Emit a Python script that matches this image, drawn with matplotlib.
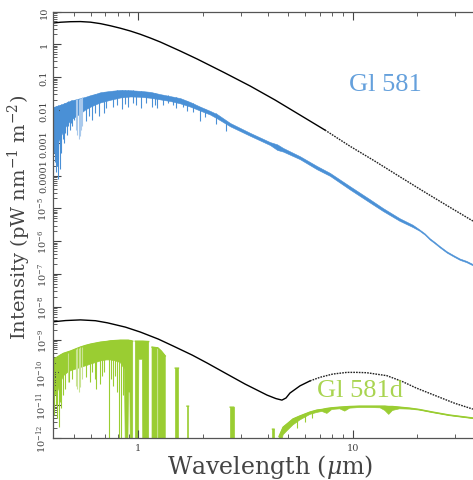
import numpy as np
import matplotlib.pyplot as plt
from matplotlib.ticker import FixedLocator, FixedFormatter, LogLocator, NullFormatter

plt.rcParams['font.family'] = 'DejaVu Serif'
plt.rcParams['mathtext.fontset'] = 'dejavuserif'

BLUE = "#4a90d6"
BLUE_LIGHT = "#a9c9ec"
GREEN = "#9acd32"
GREEN_LIGHT = "#c9e394"
INK = "#444444"

# black body curves (wavelength in micron, log10 intensity)
star_bb_wl = [0.402, 0.434, 0.483, 0.537, 0.598, 0.666, 0.741, 0.825, 0.918, 1.022, 1.137, 1.266, 1.567,
              1.880, 2.51, 3.32, 4.34, 5.67, 7.41, 9.67, 12.64, 16.5, 21.6, 28.2, 36.3]
star_bb_log = [0.649, 0.673, 0.689, 0.693, 0.675, 0.630, 0.565, 0.490, 0.405, 0.305, 0.192, 0.070, -0.204,
               -0.448, -0.860, -1.271, -1.698, -2.155, -2.613, -3.101, -3.558, -4.030, -4.503, -4.960, -5.387]

planet_bb_wl = [0.402, 0.458, 0.537, 0.631, 0.718, 0.870, 1.022, 1.239, 1.455, 1.783, 2.094, 2.540, 3.146,
                3.98, 4.38, 4.67, 4.88, 5.09, 5.67, 6.31, 7.03, 8.07, 9.38, 10.4, 11.6, 14.4, 16.9, 19.8,
                25.4, 29.8, 36.3]
planet_bb_log = [-8.457, -8.42, -8.400, -8.425, -8.49, -8.62, -8.771, -8.985, -9.198, -9.473, -9.716, -10.021,
                 -10.357, -10.692, -10.799, -10.845, -10.78, -10.63, -10.41, -10.26, -10.15, -10.05, -10.00,
                 -10.00, -10.01, -10.10, -10.27, -10.48, -10.76, -10.94, -11.12]

# Gl 581 stellar spectrum: upper and lower edge of the band
blue_wl = [0.402, 0.415, 0.434, 0.458, 0.483, 0.509, 0.537, 0.567, 0.598, 0.631, 0.666, 0.741, 0.825, 0.918,
           1.022, 1.137, 1.266, 1.41, 1.567, 1.745, 1.94, 2.16, 2.33, 2.68, 3.32, 4.11, 4.44, 4.73, 5.66,
           6.80, 7.82, 9.66, 11.98, 13.8, 16.5, 19.0, 20.4, 21.6, 22.8, 24.0, 25.4, 27.4, 29.5, 31.5, 33.8, 36.3]
blue_top = [-1.91, -1.88, -1.84, -1.78, -1.72, -1.68, -1.64, -1.60, -1.55, -1.51, -1.46, -1.42, -1.39, -1.40,
            -1.42, -1.45, -1.52, -1.58, -1.64, -1.76, -1.90, -2.03, -2.13, -2.40, -2.70, -2.98, -3.05, -3.16, -3.41,
            -3.71, -3.92, -4.32, -4.72, -4.99, -5.30, -5.50, -5.64, -5.76, -5.91, -6.02, -6.15, -6.31, -6.43, -6.53,
            -6.60, -6.70]
blue_bot = [-2.90, -3.10, -2.80, -2.50, -2.30, -2.20, -2.10, -1.98, -1.90, -1.83, -1.77, -1.69, -1.62, -1.59,
            -1.60, -1.63, -1.68, -1.73, -1.80, -1.90, -2.02, -2.14, -2.26, -2.50, -2.79, -3.07, -3.22, -3.27, -3.50,
            -3.81, -4.01, -4.42, -4.82, -5.08, -5.38, -5.57, -5.68, -5.80, -5.95, -6.06, -6.19, -6.35, -6.47, -6.57,
            -6.64, -6.74]

# absorption lines of the star: wavelength, top, bottom
blue_lines_wl = [0.405, 0.408, 0.411, 0.414, 0.417, 0.420, 0.424, 0.429, 0.433, 0.438, 0.443, 0.448, 0.455,
                 0.463, 0.470, 0.478, 0.485, 0.493, 0.502, 0.573, 0.590, 0.611, 0.630, 0.652, 0.695,
                 0.705, 0.758, 0.797, 0.843, 0.870, 0.899, 0.940, 0.979, 1.033, 1.08, 1.16, 1.19, 1.226,
                 1.30, 1.379, 1.45, 1.49, 1.62, 1.69, 1.80, 1.94, 2.05, 2.30, 2.57]
blue_lines_top = [-1.90, -1.90, -1.90, -1.89, -1.88, -1.87, -1.86, -1.85, -1.84, -1.83, -1.81, -1.80, -1.78,
                  -1.76, -1.74, -1.72, -1.71, -1.70, -1.69, -1.60, -1.57, -1.55, -1.51, -1.49, -1.45,
                  -1.44, -1.41, -1.40, -1.39, -1.39, -1.40, -1.40, -1.41, -1.42, -1.44, -1.47, -1.48, -1.50,
                  -1.54, -1.56, -1.60, -1.62, -1.70, -1.73, -1.80, -1.90, -1.96, -2.10, -2.33]
blue_lines_bot = [-3.30, -3.60, -3.40, -3.90, -3.70, -4.10, -3.50, -3.80, -3.20, -3.30, -2.90, -3.00, -2.70,
                  -2.75, -2.50, -2.60, -2.40, -2.50, -2.30, -2.35, -2.20, -2.30, -2.10, -2.20, -2.10,
                  -1.95, -1.90, -1.85, -1.97, -1.82, -1.92, -1.78, -1.85, -1.95, -1.80, -1.91, -1.84, -1.95,
                  -1.85, -1.80, -1.86, -1.94, -1.92, -2.02, -2.05, -2.34, -2.22, -2.43, -2.65]
blue_faint_wl = [0.514, 0.520, 0.526, 0.532, 0.537, 0.543, 0.549]
blue_faint_top = [-1.68, -1.67, -1.66, -1.65, -1.64, -1.63, -1.62]
blue_faint_bot = [-2.60, -2.75, -2.90, -2.80, -2.70, -2.60, -2.50]

# Gl 581d planet spectrum (nan = gap where flux falls off the plot)
LOW = -12.5
nan = np.nan
green_wl = [0.402, 0.415, 0.434, 0.448, 0.468, 0.483, 0.509, 0.537, 0.567, 0.598, 0.631, 0.666, 0.710, 0.741,
            0.782, 0.825, 0.861, 0.870, 0.893, 0.899, 0.913, 0.918, 0.941, 0.955,
            0.968, 1.000, 1.005, 1.044, 1.049, 1.117, 1.135,
            1.158, 1.222, 1.229, 1.236, 1.279, 1.335, 1.40,
            1.486, 1.538, 1.60, 1.685, 1.713, 2.0, 2.68, 2.78, 3.5, 4.22, 4.29, 4.40,
            4.53, 4.73, 4.98, 5.26, 5.66, 6.31, 6.80, 7.18, 7.57, 7.98, 8.69, 9.17, 9.66, 10.74, 11.98,
            13.4, 14.1, 14.7, 15.3, 16.5, 18.4, 20.4, 23.6, 28.2, 36.3]
green_top = [-9.59, -9.55, -9.47, -9.42, -9.38, -9.35, -9.29, -9.23, -9.18, -9.14, -9.11, -9.08, -9.06, -9.04,
             -9.03, -9.02, -9.02, -9.02, -9.02, -9.02, -9.03, -9.03, -9.05, nan,
             -9.05, -9.05, -9.05, -9.05, -9.05, -9.06, nan,
             -9.23, -9.25, nan, -9.26, -9.35, -9.50, nan,
             -9.87, -9.87, nan, -11.03, -11.03, nan, -11.06, -11.06, nan, -11.73, -11.73, nan,
             -11.95, -11.67, -11.55, -11.42, -11.33, -11.21, -11.15, -11.13, -11.10, -11.08, -11.06, -11.05, -11.04, -11.03, -11.03,
             -11.03, -11.03, -11.04, -11.04, -11.06, -11.09, -11.13, -11.21, -11.30, -11.39]
green_bot = [-10.6, -10.7, -10.3, -10.1, -10.0, -9.95, -9.90, -9.85, -9.80, -9.75, -9.70, -9.65, -9.62, -9.62,
             -9.65, -9.70, -9.90, LOW, LOW, -10.6, -10.6, LOW, LOW, nan,
             LOW, LOW, -9.60, -9.60, LOW, LOW, nan,
             LOW, LOW, nan, LOW, LOW, LOW, nan,
             LOW, LOW, nan, LOW, LOW, nan, LOW, LOW, nan, LOW, LOW, nan,
             LOW, -11.90, -11.75, -11.60, -11.45, -11.28, -11.22, -11.19, -11.25, -11.13, -11.11, -11.18, -11.09, -11.07, -11.07,
             -11.08, -11.16, -11.28, -11.16, -11.11, -11.12, -11.15, -11.23, -11.32, -11.41]

green_lines_wl = [0.405, 0.411, 0.418, 0.425, 0.431, 0.438, 0.445, 0.453, 0.476, 0.493, 0.573, 0.592, 0.611,
                  0.625, 0.638, 0.666, 0.680, 0.695, 0.726, 0.745, 0.758, 0.775, 0.792, 0.816, 0.834, 0.852,
                  5.49, 5.97, 6.44]
green_lines_top = [-9.58, -9.57, -9.54, -9.50, -9.48, -9.46, -9.44, -9.42, -9.36, -9.33, -9.18, -9.15, -9.13,
                   -9.12, -9.10, -9.08, -9.07, -9.06, -9.05, -9.04, -9.04, -9.03, -9.03, -9.02, -9.02, -9.02,
                   -11.37, -11.27, -11.20]
green_lines_bot = [-11.3, -11.0, -11.4, -11.66, -10.9, -11.1, -10.7, -10.5, -10.3, -10.2, -10.15, -10.3, -10.0,
                   -10.2, -10.5, -10.35, -10.1, -10.0, LOW, -10.2, -10.4, -10.1, -10.6, LOW, LOW, -10.7,
                   -11.7, -11.5, -11.4]
green_faint_wl = [0.468, 0.514, 0.520, 0.526, 0.537, 0.549]
green_faint_top = [-9.40, -9.28, -9.27, -9.26, -9.23, -9.22]
green_faint_bot = [-10.3, -10.4, -10.5, -10.6, -10.45, -10.2]

y_ticks = [10.0 ** k for k in range(-12, 2)]
y_tick_labels = [r'$10^{-12}$', r'$10^{-11}$', r'$10^{-10}$', r'$10^{-9}$', r'$10^{-8}$', r'$10^{-7}$',
                 r'$10^{-6}$', r'$10^{-5}$', '0.0001', '0.001', '0.01', '0.1', '1', '10']


def p(v):
    return 10.0 ** np.asarray(v, dtype=float)


fig = plt.figure(figsize=(4.73, 4.81), dpi=100)
ax = fig.add_axes([53 / 473, 42 / 481, 429 / 473, 426.5 / 481])
ax.set_xscale('log')
ax.set_yscale('log')

# stellar spectrum
ax.fill_between(blue_wl, p(blue_top), p(blue_bot), color=BLUE, lw=0.4)
ax.vlines(blue_faint_wl, p(blue_faint_bot), p(blue_faint_top), color=BLUE_LIGHT, lw=0.8)
ax.vlines(blue_lines_wl, p(blue_lines_bot), p(blue_lines_top), color=BLUE, lw=0.8)

# planet spectrum
ax.fill_between(green_wl, p(green_top), p(green_bot), color=GREEN, lw=0.5)
ax.plot(green_wl, p(green_top), color=GREEN, lw=1.0)
ax.vlines(green_faint_wl, p(green_faint_bot), p(green_faint_top), color=GREEN_LIGHT, lw=0.8)
ax.vlines(green_lines_wl, p(green_lines_bot), p(green_lines_top), color=GREEN, lw=0.8)

# black body curves: solid on the left, finely dotted further out
for wl, lg in ((star_bb_wl, star_bb_log), (planet_bb_wl, planet_bb_log)):
    wl = np.asarray(wl)
    y = p(lg)
    k = int(np.argmax(wl >= 6.0))
    ax.plot(wl[:k + 1], y[:k + 1], color='black', lw=1.0)
    ax.plot(wl[k:], y[k:], color='#222222', lw=1.0, ls=(0, (1.2, 0.8)))

ax.text(14.2, 0.062, 'Gl 581', color=BLUE, fontsize=19, family='Liberation Serif',
        ha='center', va='center', alpha=0.85)
ax.text(10.8, 2.9e-11, 'Gl 581d', color=GREEN, fontsize=19, family='Liberation Serif',
        ha='center', va='center', alpha=0.85)

ax.set_xlim(0.4, 40)
ax.set_ylim(1e-12, 10)

ax.xaxis.set_major_locator(FixedLocator([1, 10]))
ax.xaxis.set_major_formatter(FixedFormatter(['1', '10']))
ax.xaxis.set_minor_locator(LogLocator(base=10, subs=np.arange(2, 10), numticks=20))
ax.xaxis.set_minor_formatter(NullFormatter())
ax.yaxis.set_major_locator(FixedLocator(y_ticks))
ax.yaxis.set_major_formatter(FixedFormatter(y_tick_labels))
ax.yaxis.set_minor_locator(LogLocator(base=10, subs=np.arange(2, 10), numticks=40))
ax.yaxis.set_minor_formatter(NullFormatter())

ax.tick_params(which='both', direction='in', top=True, right=True, colors=INK, labelsize=7)
ax.tick_params(which='major', length=6, width=0.8)
ax.tick_params(which='minor', length=3, width=0.6)
ax.tick_params(axis='y', labelrotation=90, pad=3)
for lab in ax.get_yticklabels():
    lab.set_va('center')
for s in ax.spines.values():
    s.set_color('#555555')
    s.set_linewidth(0.9)

ax.set_xlabel(r'Wavelength ($\mu$m)', fontsize=17, color=INK)
ax.set_ylabel(r'Intensity (pW nm$^{-1}$ m$^{-2}$)', fontsize=14, color=INK)
ax.xaxis.set_label_coords(0.506, -0.033)
ax.yaxis.set_label_coords(-0.047, 0.52)

fig.savefig('out.png', dpi=100)
